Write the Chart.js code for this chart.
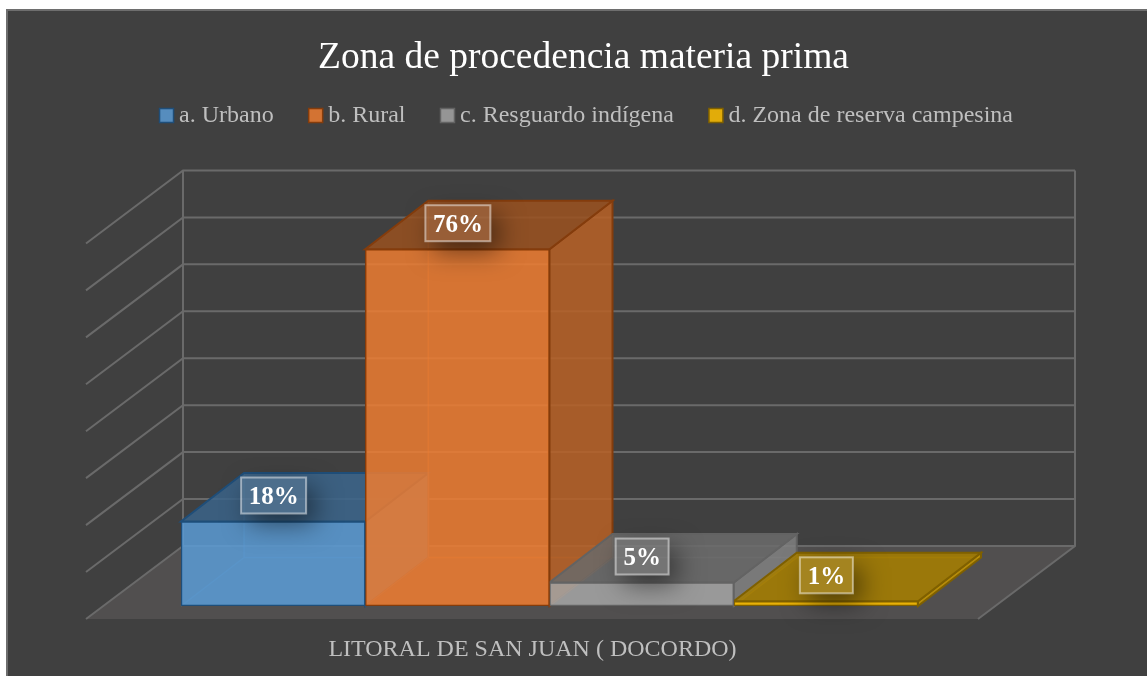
<!DOCTYPE html>
<html><head><meta charset="utf-8">
<style>html,body{margin:0;padding:0;background:#fff}canvas{display:block}</style>
<script src="https://cdn.jsdelivr.net/npm/chart.js@4/dist/chart.umd.min.js"></script>
</head><body><div style="width:1147px;height:676px"><canvas id="c" width="1147" height="676"></canvas></div>
<script>
const titleText = 'Zona de procedencia materia prima';
const categories = ['LITORAL DE SAN JUAN ( DOCORDO)'];
const seriesNames = ['a. Urbano','b. Rural','c. Resguardo indígena','d. Zona de reserva campesina'];
const seriesValues = [[18],[76],[5],[1]];
const seriesRGB = [[91,155,213],[237,125,49],[165,165,165],[255,192,0]];
const seriesEdge = ['#1f4e79','#843c0c','#636363','#7f6000'];
const wallTicks = [0,10,20,30,40,50,60,70,80];

const rgba = (c,f,a)=>`rgba(${Math.round(c[0]*f)},${Math.round(c[1]*f)},${Math.round(c[2]*f)},${a})`;
const DX=63, DY=48.5;
function poly(ctx,pts,fill,stroke,lw){
  ctx.beginPath();pts.forEach((p,i)=>i?ctx.lineTo(p[0],p[1]):ctx.moveTo(p[0],p[1]));ctx.closePath();
  if(fill){ctx.fillStyle=fill;ctx.fill();}
  if(stroke){ctx.strokeStyle=stroke;ctx.lineWidth=lw||2;ctx.stroke();}
}
const scene={
  id:'scene',
  afterLayout(chart){ chart.legend.left+=6; chart.legend.right+=6; },
  beforeDraw(chart){
    const ctx=chart.ctx;ctx.save();
    ctx.fillStyle='#fff';ctx.fillRect(0,0,chart.width,chart.height);
    ctx.fillStyle='#404040';ctx.fillRect(6,9,chart.width-6,chart.height-9);
    ctx.strokeStyle='#6e6e6e';ctx.lineWidth=2;
    ctx.beginPath();ctx.moveTo(7,chart.height);ctx.lineTo(7,10);ctx.lineTo(chart.width,10);ctx.stroke();
    ctx.restore();
  },
  beforeDatasetsDraw(chart){
    const ctx=chart.ctx,a=chart.chartArea,y=chart.scales.y;ctx.save();
    const wy=v=>y.getPixelForValue(v)-60;
    const wl=a.left+2,wr=a.right+157,fl=a.left-95,fr=a.right+60,fb=a.bottom+13;
    poly(ctx,[[wl,wy(0)],[wr,wy(0)],[fr,fb],[fl,fb]],'#514f4f');
    ctx.strokeStyle='#6a6a6a';ctx.lineWidth=2;
    wallTicks.forEach(v=>{
      const p=wy(v);
      ctx.beginPath();ctx.moveTo(fl,p+73);ctx.lineTo(wl,p);ctx.lineTo(wr,p);ctx.stroke();
    });
    ctx.beginPath();ctx.moveTo(wl,wy(80));ctx.lineTo(wl,wy(0));ctx.stroke();
    ctx.beginPath();ctx.moveTo(wr,wy(80));ctx.lineTo(wr,wy(0));ctx.lineTo(fr,fb);ctx.stroke();
    chart.data.datasets.forEach((d,i)=>{
      const b=chart.getDatasetMeta(i).data[0].getProps(['x','y','base','width'],true);
      const L=b.x-b.width/2,R=b.x+b.width/2,T=b.y,B=b.base,c=seriesRGB[i];
      const edge=seriesEdge[i];
      // floor and back, seen through the front
      poly(ctx,[[L,B],[R,B],[R+DX,B-DY],[L+DX,B-DY]],rgba(c,1,.12));
      poly(ctx,[[L+DX,T-DY],[R+DX,T-DY],[R+DX,B-DY],[L+DX,B-DY]],rgba(c,1,.1));
      ctx.strokeStyle=rgba(c,1,.35);ctx.lineWidth=1.5;
      ctx.beginPath();ctx.moveTo(L,B);ctx.lineTo(L+DX,B-DY);ctx.lineTo(L+DX,T-DY);ctx.moveTo(L+DX,B-DY);ctx.lineTo(R+DX,B-DY);ctx.stroke();
      poly(ctx,[[R,T],[R+DX,T-DY],[R+DX,B-DY],[R,B]],rgba(c,.77,.85),edge,2);
      poly(ctx,[[L,T],[R,T],[R+DX,T-DY],[L+DX,T-DY]],rgba(c,.645,.85),edge,2);
    });
    ctx.restore();
  },
  afterDatasetsDraw(chart){
    const ctx=chart.ctx;ctx.save();
    chart.data.datasets.forEach((d,i)=>{
      const b=chart.getDatasetMeta(i).data[0].getProps(['x','y'],true);
      const text=d.data[0]+'%';
      ctx.font='bold 25px "Liberation Serif"';
      const bw=text.length>2?65:53, bh=36;
      const x=b.x-bw/2+.5, yy=b.y-26-bh/2;
      // shadow outside the box only
      ctx.save();
      ctx.beginPath();ctx.rect(0,0,chart.width,chart.height);ctx.rect(x,yy,bw,bh);ctx.clip('evenodd');
      ctx.shadowColor='rgba(0,0,0,.5)';ctx.shadowBlur=26;ctx.shadowOffsetX=5000+8;ctx.shadowOffsetY=10;
      ctx.fillStyle='#000';ctx.fillRect(x-5000,yy,bw,bh);
      ctx.restore();
      ctx.fillStyle='rgba(255,255,255,.09)';ctx.fillRect(x,yy,bw,bh);
      ctx.strokeStyle='rgba(255,255,255,.48)';ctx.lineWidth=2;ctx.strokeRect(x,yy,bw,bh);
      ctx.fillStyle='#fff';ctx.textAlign='center';ctx.textBaseline='middle';
      ctx.fillText(text,x+bw/2,yy+bh/2+2);
    });
    ctx.restore();
  }
};
new Chart(document.getElementById('c'),{
  type:'bar',
  data:{labels:categories,datasets:seriesNames.map((n,i)=>({
    label:n,data:seriesValues[i],backgroundColor:rgba(seriesRGB[i],1,.85),borderColor:seriesEdge[i],borderWidth:1.5,
    borderSkipped:false,barPercentage:1,categoryPercentage:1
  }))},
  plugins:[scene],
  options:{
    responsive:false,animation:false,
    layout:{padding:{left:20,right:0,top:0,bottom:0}},
    plugins:{
      tooltip:{enabled:false},
      title:{display:true,text:titleText,color:'#ffffff',
        font:{family:'"Liberation Serif"',size:37.5,weight:'normal',lineHeight:1},padding:{top:39,bottom:-14.5}},
      legend:{position:'top',labels:{color:'#bfbfbf',font:{family:'"Liberation Serif"',size:24},
        usePointStyle:true,pointStyle:'rect',boxWidth:1,boxHeight:14,padding:41.5}}
    },
    scales:{
      x:{grid:{display:false},border:{display:false},
        ticks:{color:'#bfbfbf',font:{family:'"Liberation Serif"',size:24},labelOffset:-17,padding:21,maxRotation:0},
        afterFit(s){s.height=70;}},
      y:{position:'left',min:0,max:99.8,grid:{display:false},border:{display:false},ticks:{display:false},
        afterFit(s){s.width=161;}},
      r:{position:'right',grid:{display:false},border:{display:false},ticks:{display:false},
        afterFit(s){s.width=229;}}
    }
  }
});
</script></body></html>
